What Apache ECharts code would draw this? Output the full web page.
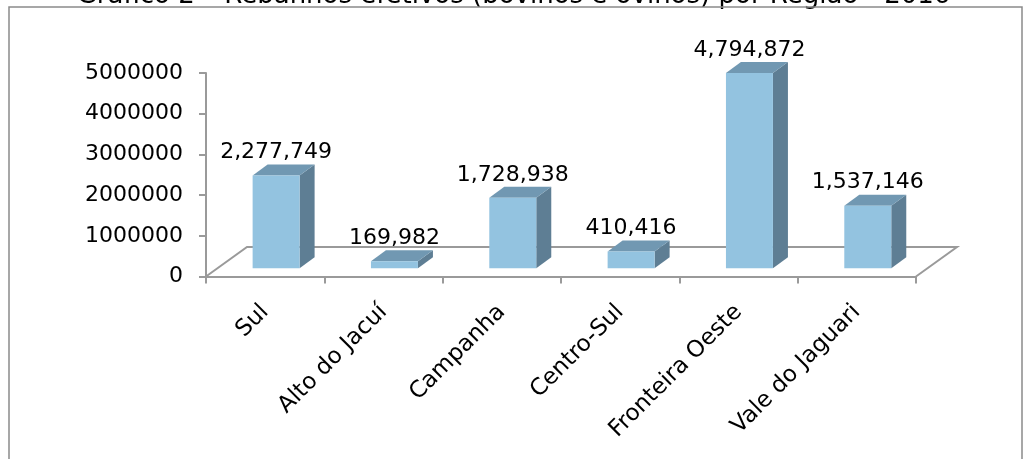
<!DOCTYPE html>
<html>
<head>
<meta charset="utf-8">
<script src="https://cdn.jsdelivr.net/npm/echarts@6/dist/echarts.min.js"></script>
<style>
html,body{margin:0;padding:0;background:#fff;}
#chart{width:1027px;height:459px;}
</style>
</head>
<body>
<div id="chart"></div>
<script>
// ---- data ----
const titleText = 'Gráfico 2 – Rebanhos efetivos (bovinos e ovinos) por Região - 2016';
const categories = ['Sul', 'Alto do Jacuí', 'Campanha', 'Centro-Sul', 'Fronteira Oeste', 'Vale do Jaguari'];
const values = [2277749, 169982, 1728938, 410416, 4794872, 1537146];
const yMin = 0;
const yMax = 5000000;
const yInterval = 1000000;

// ---- style ----
const FONT = 'DejaVu Sans';
const FRONT = '#93C3E0';
const SIDE = '#5E7E94';
const TOP = '#7198B2';
const AXIS = '#9a9a9a';

const chart = echarts.init(document.getElementById('chart'), null, {renderer: 'canvas'});

function fmt(v) { return Number(v).toLocaleString('en-US'); }

function renderFloor(params, api) {
  const band = api.size([1, 0])[0];
  const p0 = api.coord([0, 0]);
  const p1 = api.coord([categories.length - 1, 0]);
  const xl = p0[0] - band / 2, xr = p1[0] + band / 2, y = p0[1];
  const dx = 41, dy = 29.5;
  return {
    type: 'polyline',
    shape: {points: [[xl, y], [xl + dx, y - dy], [xr + dx, y - dy], [xr, y]]},
    style: {stroke: AXIS, lineWidth: 2, fill: null}
  };
}

function renderBar(params, api) {
  const idx = api.value(0);
  const v = api.value(1);
  const base = api.coord([idx, 0]);
  const top = api.coord([idx, v]);
  const band = api.size([1, 0])[0];
  const xl = base[0] - 0.106 * band;
  const xr = xl + 0.397 * band;
  const lift = 8.3, dx = 15, dy = 11;
  const yb = base[1] - lift, yt = top[1] - lift;
  return {
    type: 'group',
    children: [
      {type: 'polygon', shape: {points: [[xr, yt], [xr + dx, yt - dy], [xr + dx, yb - dy], [xr, yb]]}, style: {fill: SIDE}},
      {type: 'polygon', shape: {points: [[xl, yt], [xl + dx, yt - dy], [xr + dx, yt - dy], [xr, yt]]}, style: {fill: TOP}},
      {type: 'rect', shape: {x: xl, y: yt, width: xr - xl, height: yb - yt}, style: {fill: FRONT}},
      {type: 'text', x: (xl + xr) / 2, y: yt - dy - 1,
        style: {text: fmt(v), fill: '#000', font: '22px "' + FONT + '"', align: 'center', verticalAlign: 'bottom'}}
    ]
  };
}

const option = {
  animation: false,
  backgroundColor: '#fff',
  title: {
    text: titleText,
    left: 'center',
    top: -22,
    textStyle: {fontFamily: FONT, fontSize: 26, fontWeight: 'normal', color: '#000'}
  },
  graphic: [{
    type: 'rect', silent: true, z: 100,
    shape: {x: 9, y: 7, width: 1013, height: 480},
    style: {fill: null, stroke: '#8a8a8a', lineWidth: 1.5}
  }],
  grid: {left: 206, right: 111, top: 73, bottom: 182.5, containLabel: false},
  xAxis: {
    type: 'category',
    data: categories,
    boundaryGap: true,
    axisLine: {show: true, lineStyle: {color: AXIS, width: 2}},
    axisTick: {show: true, length: 7, interval: 0, lineStyle: {color: AXIS, width: 2}},
    axisLabel: {interval: 0, rotate: 45, margin: 32, fontFamily: FONT, fontSize: 23, color: '#000'},
    splitLine: {show: false}
  },
  yAxis: {
    type: 'value',
    min: yMin, max: yMax, interval: yInterval,
    axisLine: {show: true, lineStyle: {color: AXIS, width: 2}},
    axisTick: {show: true, length: 7, lineStyle: {color: AXIS, width: 2}},
    axisLabel: {margin: 23, fontFamily: FONT, fontSize: 22, color: '#000', formatter: v => String(v)},
    splitLine: {show: false}
  },
  series: [
    {type: 'custom', z: 1, renderItem: renderFloor, data: [[0, 0]], silent: true, clip: false},
    {type: 'custom', z: 2, renderItem: renderBar, data: values.map((v, i) => [i, v]), clip: false}
  ]
};
chart.setOption(option);
</script>
</body>
</html>
